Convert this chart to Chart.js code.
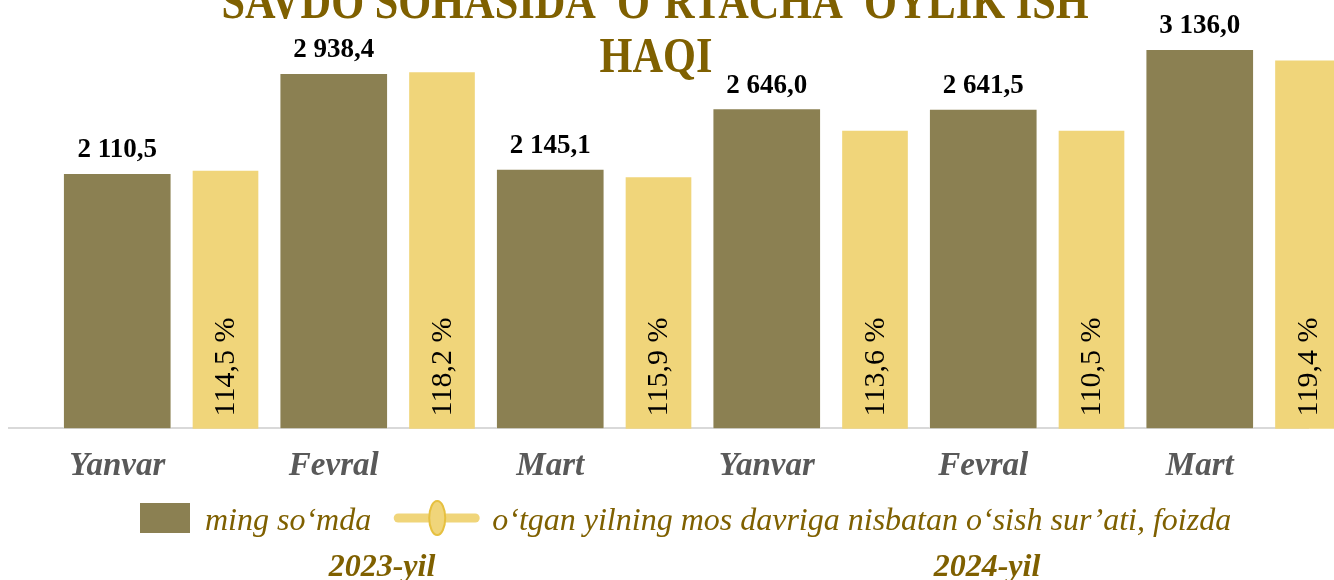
<!DOCTYPE html>
<html>
<head>
<meta charset="utf-8">
<script src="https://cdn.jsdelivr.net/npm/chart.js@4/dist/chart.umd.min.js"></script>
<style>
  html, body { margin: 0; padding: 0; background: #fff; }
  #wrap { width: 1334px; height: 580px; }
</style>
</head>
<body>
<div id="wrap"><canvas id="wageChart"></canvas></div>
<script>
// Data
const months = ["Yanvar", "Fevral", "Mart", "Yanvar", "Fevral", "Mart"];
const years = ["2023-yil", "2024-yil"];
const wageValues = [2110.5, 2938.4, 2145.1, 2646.0, 2641.5, 3136.0];   // ming so'mda
const growthRates = [114.5, 118.2, 115.9, 113.6, 110.5, 119.4];        // foizda (labels)
const growthBarHeights = [2130, 2944, 2075, 2461, 2461, 3041];         // heights the yellow bars have in the picture
const titleLines = ["SAVDO SOHASIDA  O‘RTACHA  OYLIK ISH", "HAQI"];

const OLIVE = "#8B8052";
const YELLOW = "#F0D57A";
const GOLD_TEXT = "#7F6000";
const SERIF = '"Liberation Serif", "Times New Roman", serif';

function fmtNumber(v) {
  const [i, d] = v.toFixed(1).split(".");
  return i.replace(/\B(?=(\d{3})+(?!\d))/g, " ") + "," + d;
}
function fmtPercent(v) {
  return v.toFixed(1).replace(".", ",") + " %";
}

// value labels, title, legend and year captions
const decorPlugin = {
  id: "decor",
  afterDatasetsDraw(chart) {
    const ctx = chart.ctx;
    const base = chart.scales.y.getPixelForValue(0);
    ctx.save();
    ctx.fillStyle = "#000";
    ctx.font = "bold 27px " + SERIF;
    ctx.textAlign = "center";
    ctx.textBaseline = "alphabetic";
    chart.getDatasetMeta(0).data.forEach((el, i) => {
      ctx.fillText(fmtNumber(wageValues[i]), el.x, el.y - 16);
    });
    ctx.font = "30px " + SERIF;
    ctx.textAlign = "left";
    ctx.textBaseline = "middle";
    chart.getDatasetMeta(1).data.forEach((el, i) => {
      ctx.save();
      ctx.translate(el.x + 1, base - 12);
      ctx.rotate(-Math.PI / 2);
      ctx.fillText(fmtPercent(growthRates[i]), 0, 0);
      ctx.restore();
    });
    ctx.restore();
  },
  afterDraw(chart) {
    const ctx = chart.ctx;
    ctx.save();
    // title
    ctx.fillStyle = GOLD_TEXT;
    ctx.font = "bold 51px " + SERIF;
    ctx.textAlign = "center";
    ctx.textBaseline = "alphabetic";
    [[655, 18], [656, 72]].forEach(([x, y], i) => {
      ctx.save();
      ctx.translate(x, y);
      ctx.scale(0.83, 1);
      ctx.fillText(titleLines[i], 0, 0);
      ctx.restore();
    });

    // legend
    const ds = chart.data.datasets;
    const ly = 518;
    let x = 140;
    ctx.fillStyle = OLIVE;
    ctx.fillRect(x, ly - 15, 50, 30);
    x += 65;
    ctx.font = "italic 32px " + SERIF;
    ctx.textAlign = "left";
    ctx.fillStyle = GOLD_TEXT;
    ctx.fillText(ds[0].label, x, ly + 12);
    x += ctx.measureText(ds[0].label).width + 23;
    ctx.strokeStyle = YELLOW;
    ctx.lineWidth = 9;
    ctx.lineCap = "round";
    ctx.beginPath();
    ctx.moveTo(x + 4, ly);
    ctx.lineTo(x + 81, ly);
    ctx.stroke();
    ctx.beginPath();
    ctx.ellipse(x + 43, ly, 8, 17, 0, 0, Math.PI * 2);
    ctx.fillStyle = YELLOW;
    ctx.fill();
    ctx.lineWidth = 2;
    ctx.strokeStyle = "#E6C040";
    ctx.stroke();
    x += 98;
    ctx.fillStyle = GOLD_TEXT;
    ctx.fillText(ds[1].label, x, ly + 12);

    // year captions
    ctx.font = "bold italic 32px " + SERIF;
    ctx.textAlign = "center";
    ctx.fillText(years[0], 382, 576);
    ctx.fillText(years[1], 987, 576);
    ctx.restore();
  }
};

const ctx = document.getElementById("wageChart").getContext("2d");
new Chart(ctx, {
  type: "bar",
  data: {
    datasets: [
      {
        label: "ming so‘mda",
        data: wageValues.map((v, i) => ({ x: i, y: v })),
        backgroundColor: OLIVE,
        borderColor: "rgba(255,255,255,0.45)",
        borderWidth: 1,
        barThickness: 108
      },
      {
        label: "o‘tgan yilning mos davriga nisbatan o‘sish sur’ati, foizda",
        data: growthBarHeights.map((v, i) => ({ x: i + 0.5, y: v })),
        backgroundColor: YELLOW,
        borderWidth: 0,
        barThickness: 65,
        clip: false
      }
    ]
  },
  options: {
    responsive: true,
    maintainAspectRatio: false,
    animation: false,
    grouped: false,
    layout: { padding: { left: 9, right: 26, top: 0, bottom: 76 } },
    plugins: {
      legend: { display: false },
      tooltip: { enabled: false }
    },
    scales: {
      x: {
        type: "linear",
        min: -0.5,
        max: 5.5,
        offset: false,
        afterBuildTicks: axis => { axis.ticks = months.map((m, i) => ({ value: i })); },
        grid: { display: false, drawTicks: false, offset: false },
        border: { display: true, color: "#D9D9D9", width: 2 },
        ticks: {
          padding: 18,
          autoSkip: false,
          maxRotation: 0,
          color: "#595959",
          font: { family: SERIF, size: 33, style: "italic", weight: "bold" },
          callback: v => months[v]
        }
      },
      y: {
        display: false,
        min: 0,
        max: 3545
      }
    }
  },
  plugins: [decorPlugin]
});
</script>
</body>
</html>
